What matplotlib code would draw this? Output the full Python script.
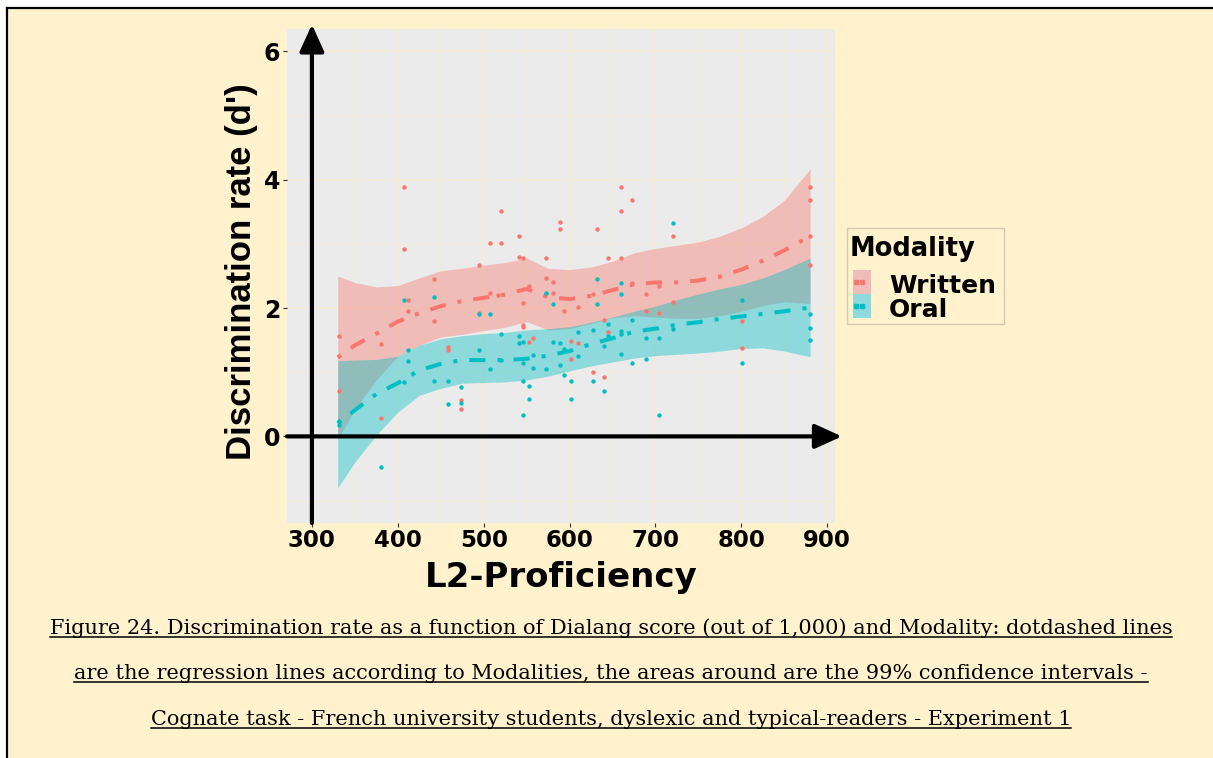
import matplotlib
matplotlib.use("Agg")
import matplotlib.pyplot as plt
from matplotlib.patches import Rectangle
from matplotlib.lines import Line2D

# ---- data ----
written_x = [331, 331, 380, 380, 407, 407, 412, 412, 442, 442, 458, 458, 474, 474,
             495, 495, 507, 507, 517, 520, 520, 541, 541, 546, 546, 546, 546, 553,
             553, 557, 573, 573, 581, 581, 589, 589, 593, 602, 602, 610, 610, 627,
             627, 632, 640, 640, 645, 645, 660, 660, 660, 673, 673, 689, 689, 704,
             704, 720, 720, 801, 801, 880, 880, 880, 880]
written_y = [1.56, 0.71, 1.44, 0.28, 3.89, 2.92, 2.13, 1.95, 2.46, 1.80, 1.39, 1.35, 0.57, 0.42,
             2.67, 1.93, 3.01, 2.24, 2.20, 3.51, 3.02, 3.12, 2.80, 2.78, 2.08, 1.74, 1.70, 2.34,
             1.47, 1.53, 2.78, 2.47, 2.40, 2.24, 3.34, 3.24, 1.95, 1.49, 1.21, 2.01, 1.46, 2.22,
             1.01, 3.24, 1.81, 0.93, 2.78, 1.62, 3.89, 3.51, 2.78, 3.68, 2.39, 2.22, 1.95, 2.34,
             1.93, 3.12, 2.09, 1.80, 1.37, 3.89, 3.68, 3.12, 2.67]

oral_x = [331, 331, 380, 407, 407, 412, 412, 442, 442, 458, 458, 474, 474, 495, 495,
          507, 507, 520, 520, 541, 541, 546, 546, 546, 546, 553, 553, 557, 557, 573,
          573, 581, 581, 589, 589, 593, 593, 602, 602, 610, 610, 627, 627, 632, 632,
          640, 640, 645, 645, 660, 660, 660, 660, 660, 673, 673, 689, 689, 704, 704,
          720, 720, 801, 801, 880, 880, 880]
oral_y = [0.24, 0.17, -0.47, 2.12, 0.85, 1.35, 1.18, 2.17, 0.87, 0.87, 0.51, 0.77, 0.52, 1.91, 1.35,
          1.91, 1.05, 1.59, 1.19, 1.56, 1.46, 1.47, 1.14, 0.86, 0.33, 0.78, 0.59, 1.27, 1.06, 2.24,
          1.05, 2.07, 1.47, 1.46, 1.11, 1.36, 0.95, 0.87, 0.59, 1.62, 1.26, 1.66, 0.87, 2.46, 2.07,
          1.41, 0.70, 1.75, 1.57, 2.39, 2.22, 1.64, 1.59, 1.28, 1.82, 1.14, 1.54, 1.21, 1.53, 0.34,
          3.33, 1.68, 2.12, 1.14, 1.91, 1.69, 1.51]

# regression lines and 99% confidence bands (read at these scores)
fit_x = [330, 350, 375, 400, 425, 450, 475, 500, 525, 550, 575, 600,
         625, 650, 675, 700, 725, 750, 775, 800, 825, 850, 880]
written_fit = [1.23, 1.42, 1.60, 1.79, 1.92, 2.03, 2.11, 2.16, 2.21, 2.30, 2.17, 2.14,
               2.19, 2.28, 2.37, 2.40, 2.40, 2.43, 2.49, 2.60, 2.74, 2.90, 3.12]
written_hi = [2.50, 2.40, 2.33, 2.35, 2.47, 2.58, 2.62, 2.67, 2.71, 2.78, 2.62, 2.60,
              2.64, 2.73, 2.86, 2.93, 2.98, 3.03, 3.12, 3.25, 3.43, 3.68, 4.17]
written_lo = [-0.05, 0.42, 0.88, 1.25, 1.42, 1.55, 1.59, 1.65, 1.70, 1.79, 1.66, 1.68,
              1.76, 1.85, 1.88, 1.86, 1.84, 1.84, 1.88, 1.95, 2.04, 2.10, 2.07]
oral_fit = [0.20, 0.41, 0.66, 0.83, 1.03, 1.13, 1.19, 1.19, 1.19, 1.21, 1.26, 1.33,
            1.44, 1.53, 1.63, 1.68, 1.74, 1.78, 1.83, 1.87, 1.91, 1.95, 2.01]
oral_hi = [1.18, 1.19, 1.20, 1.25, 1.42, 1.52, 1.57, 1.60, 1.62, 1.66, 1.68, 1.71,
           1.78, 1.86, 1.95, 2.03, 2.13, 2.22, 2.30, 2.37, 2.47, 2.60, 2.78]
oral_lo = [-0.80, -0.40, 0.02, 0.38, 0.64, 0.75, 0.83, 0.84, 0.85, 0.88, 0.94, 1.02,
           1.10, 1.16, 1.22, 1.26, 1.28, 1.30, 1.33, 1.37, 1.38, 1.33, 1.24]

x_ticks = [300, 400, 500, 600, 700, 800, 900]
y_ticks = [0, 2, 4, 6]
modalities = ["Written", "Oral"]

caption = [
    "Figure 24. Discrimination rate as a function of Dialang score (out of 1,000) and Modality: dotdashed lines",
    "are the regression lines according to Modalities, the areas around are the 99% confidence intervals -",
    "Cognate task - French university students, dyslexic and typical-readers - Experiment 1",
]

RED = "#F8766D"
TEAL = "#00BFC4"
CREAM = "#FFF2CC"
GRID = "#F4ECD2"
DOTDASH = (0, (1, 3, 4, 3))

W, H = 1213, 758


def fx(px):
    return px / W


def fy(py):
    return 1 - py / H


fig = plt.figure(figsize=(W / 100, H / 100), dpi=100)
fig.patch.set_facecolor("white")

# page background and border
fig.add_artist(Rectangle((fx(8), 0), 1 - fx(8), fy(9), transform=fig.transFigure,
                         facecolor=CREAM, edgecolor="none", zorder=-5))
fig.add_artist(Line2D([fx(7), 1], [fy(8), fy(8)], transform=fig.transFigure, color="black", lw=1.6))
fig.add_artist(Line2D([fx(7), fx(7)], [0, fy(8)], transform=fig.transFigure, color="black", lw=1.6))

ax = fig.add_axes([fx(287), fy(523), (835 - 287) / W, (523 - 29) / H])
ax.set_facecolor("#EBEBEB")
for s in ax.spines.values():
    s.set_visible(False)

ax.set_xlim(271, 909)
ax.set_ylim(-1.35, 6.35)
ax.set_xticks(x_ticks)
ax.set_xticks([350, 450, 550, 650, 750, 850], minor=True)
ax.set_yticks(y_ticks)
ax.set_yticks([-1, 1, 3, 5], minor=True)
ax.grid(which="major", color=GRID, lw=1.1)
ax.grid(which="minor", color=GRID, lw=0.55)
ax.set_axisbelow(True)
ax.tick_params(which="minor", length=0)
ax.tick_params(which="major", length=3, width=0.8, color="#333333")
ax.tick_params(axis="x", labelsize=16.5, pad=1.5)
ax.tick_params(axis="y", labelsize=17, pad=2)
for lab in ax.get_xticklabels() + ax.get_yticklabels():
    lab.set_fontweight("bold")

# confidence bands, regression lines, points
ax.fill_between(fit_x, written_lo, written_hi, color=RED, alpha=0.4, lw=0)
ax.fill_between(fit_x, oral_lo, oral_hi, color=TEAL, alpha=0.4, lw=0)
ax.plot(fit_x, written_fit, color=RED, lw=2.9, ls=DOTDASH)
ax.plot(fit_x, oral_fit, color=TEAL, lw=2.9, ls=DOTDASH)
ax.scatter(written_x, written_y, s=10, color=RED, lw=0, zorder=3)
ax.scatter(oral_x, oral_y, s=10, color=TEAL, lw=0, zorder=3)

# axis arrows
arr = dict(arrowstyle="-|>,head_length=0.55,head_width=0.25", color="black", lw=3,
           shrinkA=0, shrinkB=0, mutation_scale=30)
ax.annotate("", xy=(300, 6.42), xytext=(300, -1.35), arrowprops=arr, annotation_clip=False)
ax.annotate("", xy=(917, 0), xytext=(271, 0), arrowprops=arr, annotation_clip=False)

ax.set_xlabel("L2-Proficiency", fontsize=24.5, fontweight="bold")
ax.xaxis.set_label_coords(0.5, (523 - 587) / 494)
ax.xaxis.label.set_va("baseline")
ax.set_ylabel("Discrimination rate (d')", fontsize=25, fontweight="bold",
              family="Liberation Sans")
ax.yaxis.set_label_coords((242 - 287) / 548, (523 - 272) / 494)
ax.yaxis.label.set_va("center")

# legend
fig.add_artist(Rectangle((fx(847), fy(324)), (1004 - 847) / W, (324 - 228) / H,
                         transform=fig.transFigure, facecolor=CREAM, edgecolor="#D3CAB2", lw=1))
fig.text(fx(850), fy(256), "Modality", fontsize=18.5, fontweight="bold", va="baseline")
key_cols = ["#F0BCB9", "#8DD9DB"]
for i, (name, kc, lc) in enumerate(zip(modalities, key_cols, [RED, TEAL])):
    top = 270 + 24 * i
    fig.add_artist(Rectangle((fx(853), fy(top + 24)), 18 / W, 24 / H,
                             transform=fig.transFigure, facecolor=kc, edgecolor="none"))
    fig.add_artist(Line2D([fx(856), fx(862)], [fy(top + 12)] * 2, transform=fig.transFigure,
                          ls="none", marker="s", ms=2.4, color=lc))
    fig.text(fx(889), fy(top + 23), name, fontsize=18, fontweight="bold", va="baseline")

# caption, underlined
fig.canvas.draw()
rend = fig.canvas.get_renderer()
for line, base in zip(caption, [634, 679, 725]):
    t = fig.text(fx(611), fy(base), line, ha="center", va="baseline",
                 fontsize=15, family="DejaVu Serif")
    bb = t.get_window_extent(rend)
    fig.add_artist(Line2D([bb.x0 / W, bb.x1 / W], [fy(base + 3)] * 2,
                          transform=fig.transFigure, color="black", lw=1.1))

fig.savefig("out.png", dpi=100)
